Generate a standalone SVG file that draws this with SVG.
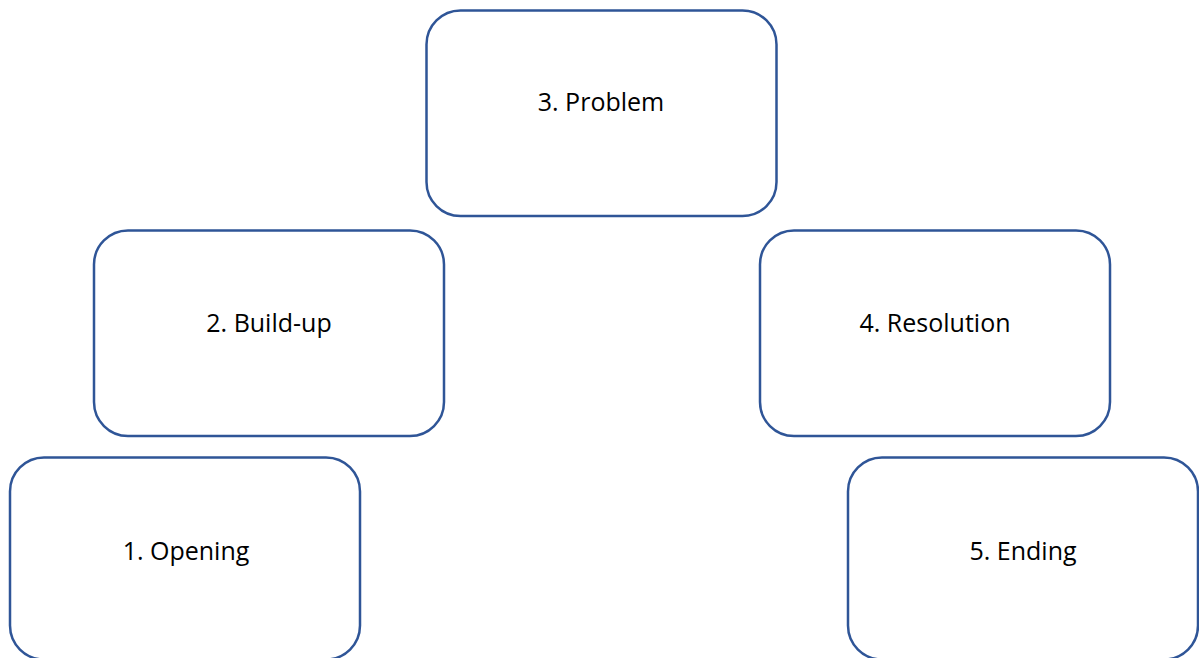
<svg xmlns="http://www.w3.org/2000/svg" width="1199" height="658" viewBox="0 0 1199 658">
<style>
.box{fill:#fff;stroke:#2F5597;stroke-width:2.5}
.lbl{font-family:"Open Sans","Liberation Sans",sans-serif;font-size:25px;fill:#000;text-anchor:middle}
</style>
<rect width="1199" height="658" fill="#fff"/>
<g id="connectors"></g>
<g id="n3"><rect class="box" x="426.5" y="10.5" width="350" height="205.5" rx="34"/><text class="lbl" x="601" y="111">3. Problem</text></g>
<g id="n2"><rect class="box" x="94" y="230.5" width="350" height="205.5" rx="34"/><text class="lbl" x="269" y="332">2. Build-up</text></g>
<g id="n4"><rect class="box" x="760" y="230.5" width="350" height="205.5" rx="34"/><text class="lbl" x="935" y="332">4. Resolution</text></g>
<g id="n1"><rect class="box" x="10" y="457.5" width="350" height="202" rx="34"/><text class="lbl" x="186" y="560">1. Opening</text></g>
<g id="n5"><rect class="box" x="848" y="457.5" width="350" height="202" rx="34"/><text class="lbl" x="1023" y="560">5. Ending</text></g>
</svg>
